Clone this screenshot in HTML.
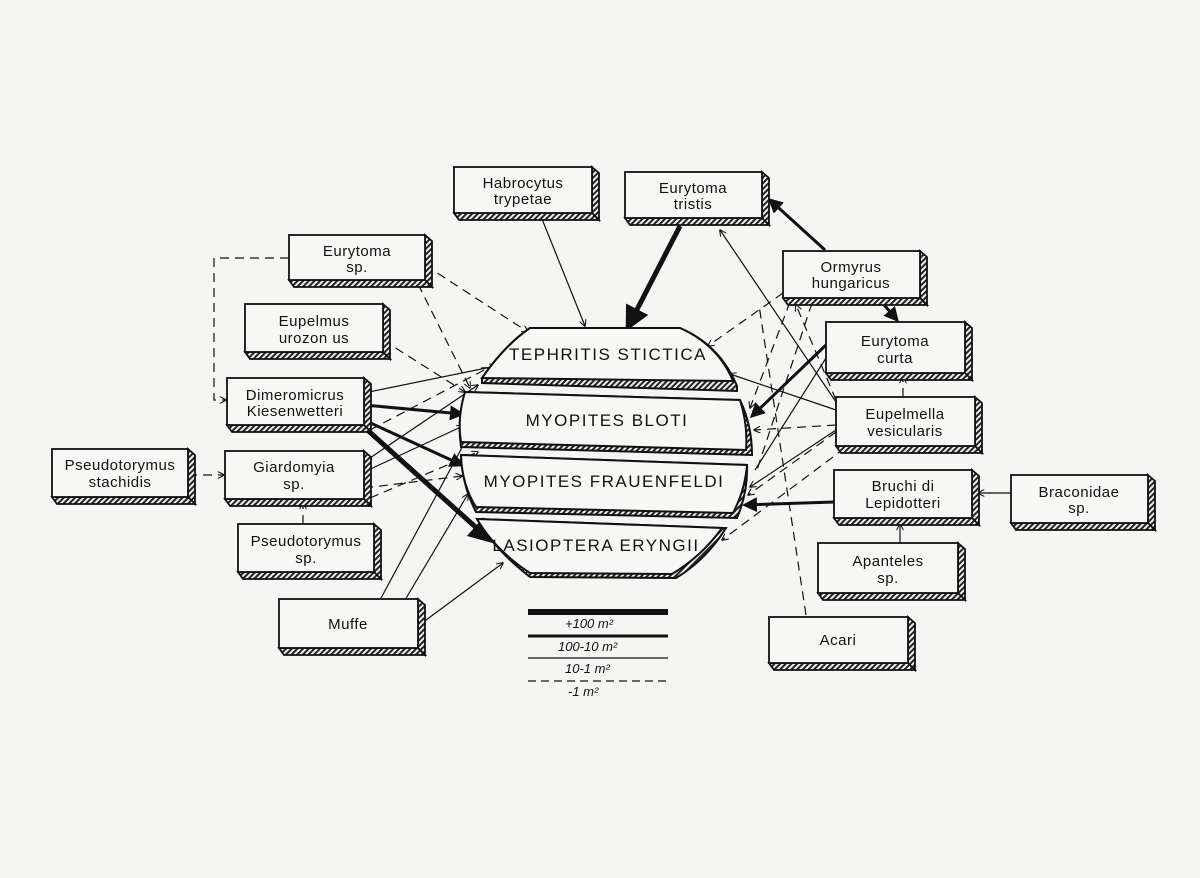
<!DOCTYPE html>
<html><head><meta charset="utf-8"><style>
html,body{margin:0;padding:0;background:#f5f5f3;}
svg{display:block}
text{font-family:"Liberation Sans",sans-serif;fill:#111;}
</style></head><body>
<svg width="1200" height="878" viewBox="0 0 1200 878" xmlns="http://www.w3.org/2000/svg">
<defs>
<pattern id="h" width="4" height="4" patternUnits="userSpaceOnUse" patternTransform="rotate(45)">
<rect width="4" height="4" fill="#eee"/><rect width="2" height="4" fill="#222"/></pattern>
<marker id="a" viewBox="0 0 10 10" refX="9" refY="5" markerWidth="7" markerHeight="7" markerUnits="userSpaceOnUse" orient="auto"><path d="M0,0 L10,5 L0,10" fill="none" stroke="#111" stroke-width="1.5"/></marker>
<marker id="b" viewBox="0 0 10 10" refX="8" refY="5" markerWidth="5" markerHeight="5" orient="auto"><path d="M0,0 L10,5 L0,10z" fill="#111"/></marker>
</defs>
<rect width="1200" height="878" fill="#f5f5f3"/>

<!-- connectors -->
<g stroke="#111" fill="none">
<g stroke-width="1.2" marker-end="url(#a)">
<line x1="540" y1="214" x2="585" y2="326"/>
<line x1="364" y1="393" x2="496" y2="366"/>
<line x1="364" y1="462" x2="478" y2="385"/>
<line x1="364" y1="472" x2="463" y2="426"/>
<line x1="380" y1="600" x2="466" y2="440"/>
<line x1="405" y1="600" x2="468" y2="494"/>
<line x1="418" y1="626" x2="503" y2="563"/>
<line x1="836" y1="410" x2="730" y2="374"/>
<line x1="836" y1="430" x2="750" y2="487"/>
<line x1="836" y1="402" x2="720" y2="230"/>
<line x1="1011" y1="493" x2="978" y2="493"/>
<line x1="900" y1="543" x2="900" y2="524"/>
</g>
<g stroke-width="1.2"><line x1="826" y1="358" x2="755" y2="470"/></g>
<g stroke-width="1.2" stroke-dasharray="9,6" marker-end="url(#a)">
<line x1="425" y1="265" x2="528" y2="332"/>
<line x1="418" y1="284" x2="470" y2="388"/>
<line x1="383" y1="340" x2="465" y2="392"/>
<line x1="370" y1="430" x2="488" y2="368"/>
<line x1="364" y1="488" x2="462" y2="476"/>
<line x1="370" y1="498" x2="478" y2="452"/>
<line x1="188" y1="475" x2="224" y2="475"/>
<line x1="303" y1="524" x2="303" y2="503"/>
<polyline points="289,258 214,258 214,400 226,400"/>
<line x1="783" y1="293" x2="708" y2="346"/>
<line x1="790" y1="302" x2="750" y2="408"/>
<line x1="836" y1="425" x2="754" y2="430"/>
<line x1="836" y1="432" x2="748" y2="495"/>
<line x1="845" y1="448" x2="722" y2="540"/>
<line x1="836" y1="400" x2="796" y2="305"/>
<line x1="903" y1="397" x2="903" y2="377"/>
</g>
<g stroke-width="1.2" stroke-dasharray="9,6">
<line x1="806" y1="615" x2="759" y2="305"/>
<line x1="812" y1="303" x2="757" y2="470"/>
</g>
<g stroke-width="3" marker-end="url(#b)">
<line x1="364" y1="405" x2="462" y2="414"/>
<line x1="364" y1="420" x2="462" y2="465"/>
<line x1="826" y1="345" x2="752" y2="416"/>
<line x1="834" y1="502" x2="745" y2="505"/>
<line x1="825" y1="250" x2="770" y2="200"/>
<line x1="880" y1="300" x2="897" y2="320"/>
</g>
<g stroke-width="5" marker-end="url(#b)">
<line x1="364" y1="427" x2="490" y2="540"/>
<line x1="680" y1="226" x2="628" y2="327"/>
</g>
</g>

<!-- central bands -->
<g stroke="#111" stroke-width="2">
<path d="M530,328 L680,328 Q720,345 737,386 L737,391 L482,383 L482,378 Q505,345 530,328z" fill="url(#h)"/>
<path d="M530,328 L680,328 Q718,345 733,381 L482,378 Q505,345 530,328z" fill="#f7f7f5"/>
<path d="M465,392 L740,400 Q752,425 752,455 L461,447 Q457,418 465,392z" fill="url(#h)"/>
<path d="M465,392 L740,400 Q748,425 746,450 L461,442 Q457,418 465,392z" fill="#f7f7f5"/>
<path d="M461,455 L747,465 Q748,492 737,518 L476,512 Q462,485 461,455z" fill="url(#h)"/>
<path d="M461,455 L747,465 Q745,490 733,513 L476,507 Q462,485 461,455z" fill="#f7f7f5"/>
<path d="M477,519 L726,528 Q706,560 676,578 L530,577 Q495,550 477,519z" fill="url(#h)"/>
<path d="M477,519 L722,528 Q702,556 672,574 L530,573 Q495,550 477,519z" fill="#f7f7f5"/>
</g>
<g font-size="17" letter-spacing="1.5" text-anchor="middle">
<text x="608" y="360">TEPHRITIS STICTICA</text>
<text x="607" y="426">MYOPITES  BLOTI</text>
<text x="604" y="487">MYOPITES FRAUENFELDI</text>
<text x="596" y="551">LASIOPTERA  ERYNGII</text>
</g>

<!-- boxes -->
<g stroke="#111" stroke-width="1.8">
<g id="boxes"></g>
</g>
<g stroke="#111" stroke-width="1.8" font-size="15" text-anchor="middle">
<!-- x,y,w,h -->
<g><polygon points="592,167 599,173 599,220 592,213" fill="url(#h)"/><polygon points="454,213 592,213 599,220 459,220" fill="url(#h)"/><rect x="454" y="167" width="138" height="46" fill="#f7f7f5"/></g>
<g><polygon points="762,172 769,178 769,225 762,218" fill="url(#h)"/><polygon points="625,218 762,218 769,225 630,225" fill="url(#h)"/><rect x="625" y="172" width="137" height="46" fill="#f7f7f5"/></g>
<g><polygon points="425,235 432,241 432,287 425,280" fill="url(#h)"/><polygon points="289,280 425,280 432,287 294,287" fill="url(#h)"/><rect x="289" y="235" width="136" height="45" fill="#f7f7f5"/></g>
<g><polygon points="383,304 390,310 390,359 383,352" fill="url(#h)"/><polygon points="245,352 383,352 390,359 250,359" fill="url(#h)"/><rect x="245" y="304" width="138" height="48" fill="#f7f7f5"/></g>
<g><polygon points="364,378 371,384 371,432 364,425" fill="url(#h)"/><polygon points="227,425 364,425 371,432 232,432" fill="url(#h)"/><rect x="227" y="378" width="137" height="47" fill="#f7f7f5"/></g>
<g><polygon points="188,449 195,455 195,504 188,497" fill="url(#h)"/><polygon points="52,497 188,497 195,504 57,504" fill="url(#h)"/><rect x="52" y="449" width="136" height="48" fill="#f7f7f5"/></g>
<g><polygon points="364,451 371,457 371,506 364,499" fill="url(#h)"/><polygon points="225,499 364,499 371,506 230,506" fill="url(#h)"/><rect x="225" y="451" width="139" height="48" fill="#f7f7f5"/></g>
<g><polygon points="374,524 381,530 381,579 374,572" fill="url(#h)"/><polygon points="238,572 374,572 381,579 243,579" fill="url(#h)"/><rect x="238" y="524" width="136" height="48" fill="#f7f7f5"/></g>
<g><polygon points="418,599 425,605 425,655 418,648" fill="url(#h)"/><polygon points="279,648 418,648 425,655 284,655" fill="url(#h)"/><rect x="279" y="599" width="139" height="49" fill="#f7f7f5"/></g>
<g><polygon points="920,251 927,257 927,305 920,298" fill="url(#h)"/><polygon points="783,298 920,298 927,305 788,305" fill="url(#h)"/><rect x="783" y="251" width="137" height="47" fill="#f7f7f5"/></g>
<g><polygon points="965,322 972,328 972,380 965,373" fill="url(#h)"/><polygon points="826,373 965,373 972,380 831,380" fill="url(#h)"/><rect x="826" y="322" width="139" height="51" fill="#f7f7f5"/></g>
<g><polygon points="975,397 982,403 982,453 975,446" fill="url(#h)"/><polygon points="836,446 975,446 982,453 841,453" fill="url(#h)"/><rect x="836" y="397" width="139" height="49" fill="#f7f7f5"/></g>
<g><polygon points="972,470 979,476 979,525 972,518" fill="url(#h)"/><polygon points="834,518 972,518 979,525 839,525" fill="url(#h)"/><rect x="834" y="470" width="138" height="48" fill="#f7f7f5"/></g>
<g><polygon points="1148,475 1155,481 1155,530 1148,523" fill="url(#h)"/><polygon points="1011,523 1148,523 1155,530 1016,530" fill="url(#h)"/><rect x="1011" y="475" width="137" height="48" fill="#f7f7f5"/></g>
<g><polygon points="958,543 965,549 965,600 958,593" fill="url(#h)"/><polygon points="818,593 958,593 965,600 823,600" fill="url(#h)"/><rect x="818" y="543" width="140" height="50" fill="#f7f7f5"/></g>
<g><polygon points="908,617 915,623 915,670 908,663" fill="url(#h)"/><polygon points="769,663 908,663 915,670 774,670" fill="url(#h)"/><rect x="769" y="617" width="139" height="46" fill="#f7f7f5"/></g>
</g>
<g font-size="15" text-anchor="middle" letter-spacing="0.5">
<text x="523" y="188">Habrocytus</text><text x="523" y="204">trypetae</text>
<text x="693" y="193">Eurytoma</text><text x="693" y="209">tristis</text>
<text x="357" y="256">Eurytoma</text><text x="357" y="272">sp.</text>
<text x="314" y="326">Eupelmus</text><text x="314" y="343">urozon us</text>
<text x="295" y="400">Dimeromicrus</text><text x="295" y="416">Kiesenwetteri</text>
<text x="120" y="470">Pseudotorymus</text><text x="120" y="487">stachidis</text>
<text x="294" y="472">Giardomyia</text><text x="294" y="489">sp.</text>
<text x="306" y="546">Pseudotorymus</text><text x="306" y="563">sp.</text>
<text x="348" y="629">Muffe</text>
<text x="851" y="272">Ormyrus</text><text x="851" y="288">hungaricus</text>
<text x="895" y="346">Eurytoma</text><text x="895" y="363">curta</text>
<text x="905" y="419">Eupelmella</text><text x="905" y="436">vesicularis</text>
<text x="903" y="491">Bruchi di</text><text x="903" y="508">Lepidotteri</text>
<text x="1079" y="497">Braconidae</text><text x="1079" y="513">sp.</text>
<text x="888" y="566">Apanteles</text><text x="888" y="583">sp.</text>
<text x="838" y="645">Acari</text>
</g>

<!-- legend -->
<g stroke="#111">
<line x1="528" y1="612" x2="668" y2="612" stroke-width="6"/>
<line x1="528" y1="636" x2="668" y2="636" stroke-width="3"/>
<line x1="528" y1="658" x2="668" y2="658" stroke-width="1.3"/>
<line x1="528" y1="681" x2="668" y2="681" stroke-width="1.3" stroke-dasharray="8,5"/>
</g>
<g font-size="13" font-style="italic">
<text x="565" y="628">+100    m²</text>
<text x="558" y="651">100-10  m²</text>
<text x="565" y="673">10-1   m²</text>
<text x="568" y="696">-1    m²</text>
</g>
</svg>
</body></html>
